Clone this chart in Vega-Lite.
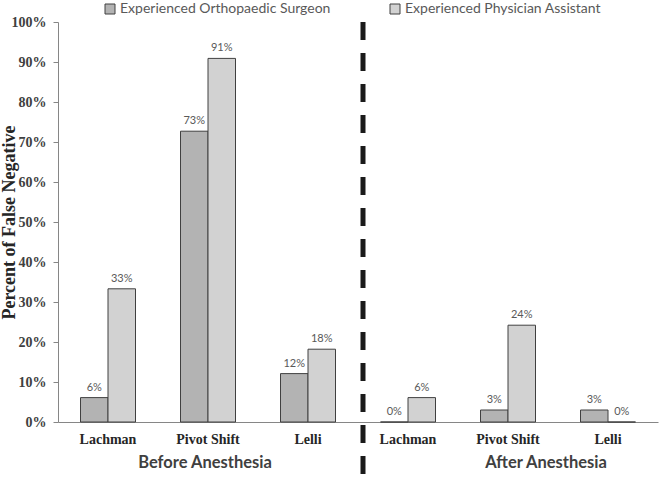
{
  "$schema": "https://vega.github.io/schema/vega-lite/v6.json",
  "width": 600,
  "height": 400,
  "autosize": {"type": "none"},
  "padding": {"left": 58, "top": 22, "right": 1, "bottom": 57},
  "background": "white",
  "config": {
    "view": {"stroke": null},
    "font": "Lato",
    "axisY": {"format": ".0%", "labelOverlap": false, "grid": false, "domainColor": "#868686", "tickColor": "#868686", "tickSize": 5, "labelFont": "Liberation Serif", "labelFontWeight": "bold", "labelFontSize": 14, "labelColor": "#404040", "labelPadding": 7, "titleFont": "Liberation Serif", "titleFontSize": 18, "titleFontWeight": "bold", "titleColor": "#262626", "titlePadding": -7}
  },
  "datasets": {
    "bars": [
      {"slot": "B|Lachman", "series": "Experienced Orthopaedic Surgeon", "value": 0.061},
      {"slot": "B|Lachman", "series": "Experienced Physician Assistant", "value": 0.333},
      {"slot": "B|Pivot Shift", "series": "Experienced Orthopaedic Surgeon", "value": 0.727},
      {"slot": "B|Pivot Shift", "series": "Experienced Physician Assistant", "value": 0.909},
      {"slot": "B|Lelli", "series": "Experienced Orthopaedic Surgeon", "value": 0.121},
      {"slot": "B|Lelli", "series": "Experienced Physician Assistant", "value": 0.182},
      {"slot": "A|Lachman", "series": "Experienced Orthopaedic Surgeon", "value": 0.0},
      {"slot": "A|Lachman", "series": "Experienced Physician Assistant", "value": 0.061},
      {"slot": "A|Pivot Shift", "series": "Experienced Orthopaedic Surgeon", "value": 0.03},
      {"slot": "A|Pivot Shift", "series": "Experienced Physician Assistant", "value": 0.242},
      {"slot": "A|Lelli", "series": "Experienced Orthopaedic Surgeon", "value": 0.03},
      {"slot": "A|Lelli", "series": "Experienced Physician Assistant", "value": 0.0}
    ],
    "before": [{"group": "Before Anesthesia", "slot": "B|Pivot Shift"}],
    "after": [{"group": "After Anesthesia", "slot": "A|Pivot Shift"}],
    "sep": [{"slot": "B|Lelli"}]
  },
  "layer": [
    {
      "data": {"name": "bars"},
      "mark": {"type": "bar", "stroke": "#404040", "strokeWidth": 1},
      "encoding": {
        "x": {
          "field": "slot", "type": "nominal",
          "scale": {"domain": ["B|Lachman", "B|Pivot Shift", "B|Lelli", "A|Lachman", "A|Pivot Shift", "A|Lelli"], "paddingInner": 0.45, "paddingOuter": 0.225},
          "axis": {"title": null, "labelExpr": "split(datum.label,'|')[1]", "ticks": false, "domainColor": "#868686", "labelFont": "Liberation Serif", "labelFontWeight": "bold", "labelFontSize": 14, "labelColor": "#262626", "labelPadding": 10, "labelAngle": 0}
        },
        "xOffset": {"field": "series", "type": "nominal"},
        "y": {
          "field": "value", "type": "quantitative",
          "scale": {"domain": [0, 1]},
          "axis": {"title": "Percent of False Negative", "values": [0, 0.1, 0.2, 0.3, 0.4, 0.5, 0.6, 0.7, 0.8, 0.9, 1]}
        },
        "fill": {
          "field": "series", "type": "nominal",
          "scale": {"range": ["#b3b3b3", "#d2d2d2"]},
          "legend": {"orient": "none", "legendX": 45, "legendY": -20, "direction": "horizontal", "title": null, "labelFont": "Lato", "labelFontSize": 14, "labelColor": "#595959", "labelLimit": 0, "symbolType": "square", "symbolSize": 100, "symbolStrokeColor": "#404040", "symbolStrokeWidth": 1, "columnPadding": 57, "labelOffset": 3}
        }
      }
    },
    {
      "data": {"name": "bars"},
      "mark": {"type": "text", "baseline": "bottom", "dy": -5, "fontSize": 11, "color": "#595959", "font": "Lato"},
      "encoding": {
        "x": {"field": "slot", "type": "nominal"},
        "xOffset": {"field": "series", "type": "nominal"},
        "y": {"field": "value", "type": "quantitative", "axis": {"title": "Percent of False Negative", "values": [0, 0.1, 0.2, 0.3, 0.4, 0.5, 0.6, 0.7, 0.8, 0.9, 1]}},
        "text": {"field": "value", "type": "quantitative", "format": ".0%"}
      }
    },
    {
      "data": {"name": "before"},
      "mark": {"type": "text", "baseline": "middle", "fontSize": 16.5, "fontWeight": "bold", "color": "#404040", "font": "Lato", "dx": -3},
      "encoding": {
        "x": {"field": "slot", "type": "nominal"},
        "y": {"datum": -0.102, "type": "quantitative", "axis": {"title": "Percent of False Negative", "values": [0, 0.1, 0.2, 0.3, 0.4, 0.5, 0.6, 0.7, 0.8, 0.9, 1]}},
        "text": {"field": "group", "type": "nominal"}
      }
    },
    {
      "data": {"name": "after"},
      "mark": {"type": "text", "baseline": "middle", "fontSize": 16.5, "fontWeight": "bold", "color": "#404040", "font": "Lato", "dx": 38},
      "encoding": {
        "x": {"field": "slot", "type": "nominal"},
        "y": {"datum": -0.102, "type": "quantitative", "axis": {"title": "Percent of False Negative", "values": [0, 0.1, 0.2, 0.3, 0.4, 0.5, 0.6, 0.7, 0.8, 0.9, 1]}},
        "text": {"field": "group", "type": "nominal"}
      }
    },
    {
      "data": {"name": "sep"},
      "mark": {"type": "rule", "strokeWidth": 5, "strokeDash": [18, 13], "color": "#1a1a1a"},
      "encoding": {
        "x": {"field": "slot", "type": "nominal", "bandPosition": 1.5},
        "y": {"datum": 1.0, "type": "quantitative", "axis": {"title": "Percent of False Negative", "values": [0, 0.1, 0.2, 0.3, 0.4, 0.5, 0.6, 0.7, 0.8, 0.9, 1]}},
        "y2": {"datum": -0.145}
      }
    }
  ]
}
